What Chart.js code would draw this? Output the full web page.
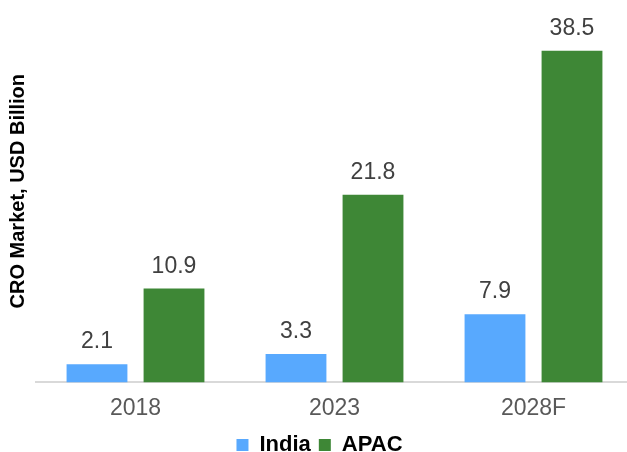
<!DOCTYPE html>
<html>
<head>
<meta charset="utf-8">
<script src="https://cdn.jsdelivr.net/npm/chart.js@4.4.0/dist/chart.umd.min.js"></script>
<style>
  html, body { margin: 0; padding: 0; background: #fff; overflow: hidden; }
  #wrap { width: 633px; height: 452px; }
</style>
</head>
<body>
<div id="wrap"><canvas id="croChart" width="633" height="452"></canvas></div>
<script>
// chart values
var years = ['2018', '2023', '2028F'];
var indiaValues = [2.1, 3.3, 7.9];
var apacValues = [10.9, 21.8, 38.5];

// draws the value above every bar
var valueLabels = {
    id: 'valueLabels',
    afterDatasetsDraw: function (chart) {
        var ctx = chart.ctx;
        ctx.save();
        ctx.font = '23px "Liberation Sans", Arial, sans-serif';
        ctx.fillStyle = '#404040';
        ctx.textAlign = 'center';
        ctx.textBaseline = 'alphabetic';
        chart.data.datasets.forEach(function (ds, i) {
            chart.getDatasetMeta(i).data.forEach(function (bar, j) {
                ctx.fillText(ds.data[j].toFixed(1), bar.x, bar.y - 16);
            });
        });
        ctx.restore();
    }
};

var ctx = document.getElementById('croChart').getContext('2d');
var croChart = new Chart(ctx, {
    type: 'bar',
    data: {
        labels: years,
        datasets: [{
            label: 'India',
            data: indiaValues,
            backgroundColor: '#58a9fe',
            categoryPercentage: 0.774,
            barPercentage: 0.79
        }, {
            label: 'APAC',
            data: apacValues,
            backgroundColor: '#3e8736',
            categoryPercentage: 0.774,
            barPercentage: 0.79
        }]
    },
    options: {
        responsive: false,
        animation: false,
        layout: { padding: { top: 0, left: 6, right: 0, bottom: -14 } },
        plugins: {
            tooltip: { enabled: false },
            legend: {
                position: 'bottom',
                labels: {
                    boxWidth: 12,
                    boxHeight: 12,
                    padding: 8,
                    color: '#000',
                    font: { family: '"Liberation Sans", Arial, sans-serif', size: 22, weight: 'bold' }
                }
            }
        },
        scales: {
            x: {
                grid: { display: false },
                border: { color: '#d9d9d9', width: 2 },
                ticks: {
                    color: '#595959',
                    padding: 4,
                    font: { family: '"Liberation Sans", Arial, sans-serif', size: 23 }
                }
            },
            y: {
                min: 0,
                max: 44.4,
                grid: { display: false },
                border: { display: false },
                ticks: { display: false },
                afterFit: function (scale) { scale.width = 30; },
                title: {
                    display: true,
                    text: 'CRO Market, USD Billion',
                    color: '#000',
                    padding: { top: 0, bottom: 0 },
                    font: { family: '"Liberation Sans", Arial, sans-serif', size: 20, weight: 'bold' }
                }
            }
        }
    },
    plugins: [valueLabels]
});
</script>
</body>
</html>
